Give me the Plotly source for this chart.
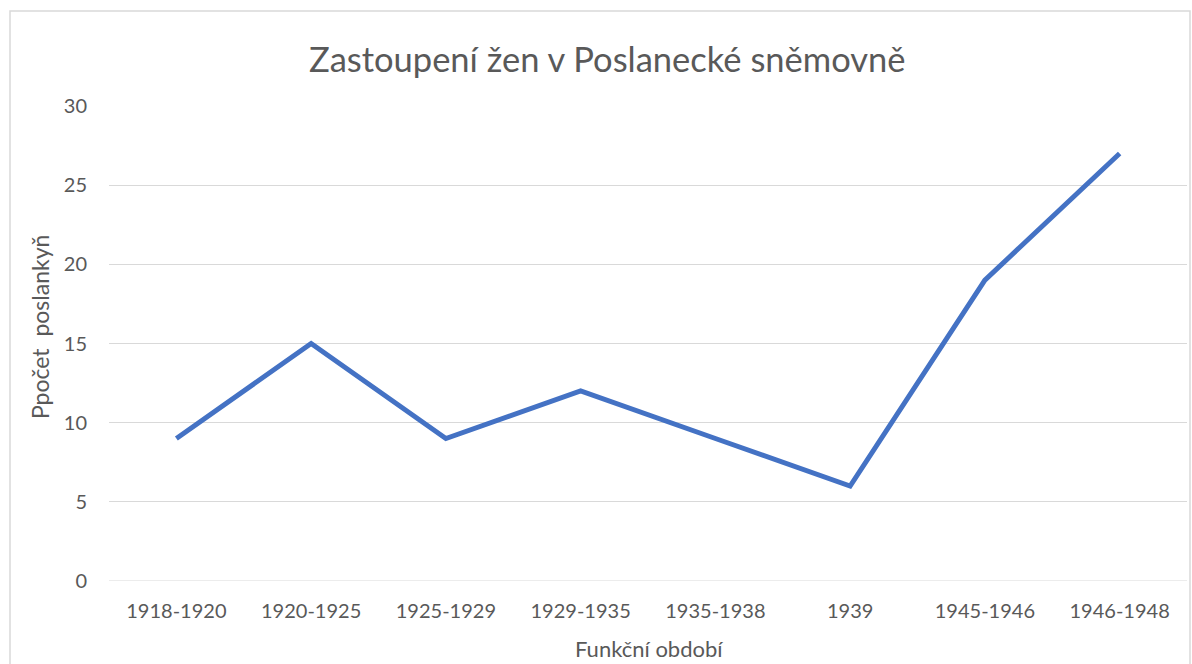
import plotly.graph_objects as go

periods = ["1918-1920", "1920-1925", "1925-1929", "1929-1935", "1935-1938", "1939", "1945-1946", "1946-1948"]
poslankyne = [9, 15, 9, 12, 9, 6, 19, 27]

W, H = 1192, 664
L, R, T, B = 109, 5, 106, 83
pw, ph = W - L - R, H - T - B

def px(x):
    return (x - L) / pw

def py(y):
    return (H - B - y) / ph

font = "Lato, 'Open Sans', sans-serif"
grey = "#595959"

fig = go.Figure()
fig.add_trace(go.Scatter(
    x=periods, y=poslankyne, mode="lines",
    line=dict(color="#4472C4", width=5),
    hoverinfo="x+y",
))

fig.update_layout(
    width=W, height=H,
    margin=dict(l=L, r=R, t=T, b=B),
    paper_bgcolor="white", plot_bgcolor="white",
    showlegend=False,
    font=dict(family=font, color=grey, size=20),
    xaxis=dict(
        type="category", showgrid=False, zeroline=False,
        showline=False, ticks="", tickfont=dict(size=20, color=grey),
        range=[-0.5, len(periods) - 0.5], ticklabelstandoff=16,
    ),
    yaxis=dict(
        range=[0, 30], dtick=5, showgrid=True, gridcolor="#d9d9d9", gridwidth=1,
        zeroline=False, showline=False, ticks="", ticklen=0,
        tickfont=dict(size=20, color=grey), ticklabelstandoff=21,
    ),
    shapes=[
        dict(type="rect", xref="paper", yref="paper",
             x0=px(10), x1=px(1190), y0=py(11), y1=py(700),
             line=dict(color="#d9d9d9", width=1.5), fillcolor="rgba(0,0,0,0)", layer="below"),
        dict(type="line", xref="paper", yref="y", x0=0, x1=1, y0=0, y1=0,
             line=dict(color="#d9d9d9", width=1)),
    ],
    annotations=[
        dict(text="Zastoupení žen v Poslanecké sněmovně", xref="paper", yref="paper",
             x=px(607), y=py(58), xanchor="center", yanchor="middle", showarrow=False,
             font=dict(size=34.5, color=grey, family=font)),
        dict(text="Ppočet  poslankyň", xref="paper", yref="paper",
             x=px(40), y=py(327), xanchor="center", yanchor="middle", showarrow=False,
             textangle=-90, font=dict(size=23, color=grey, family=font)),
        dict(text="Funkční období", xref="paper", yref="paper",
             x=px(649), y=py(648), xanchor="center", yanchor="middle", showarrow=False,
             font=dict(size=22, color=grey, family=font)),
    ],
)

fig.write_html("out.html", config={"displayModeBar": False},
               post_script="document.body.style.margin='0';document.body.style.overflow='hidden';")
